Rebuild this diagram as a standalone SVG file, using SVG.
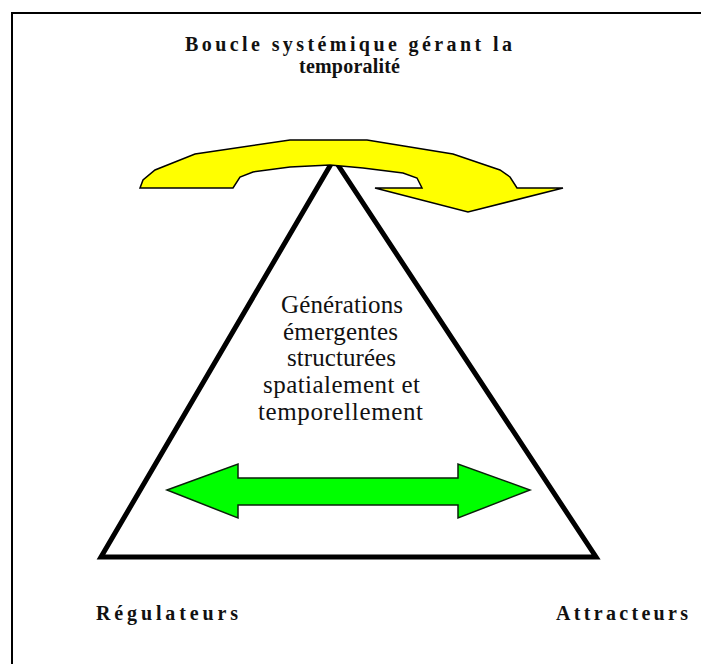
<svg xmlns="http://www.w3.org/2000/svg" width="701" height="664" viewBox="0 0 701 664">
  <style>
    .frame { fill: none; stroke: #000; stroke-width: 2; }
    .title { font-family: "Liberation Serif", "Times New Roman", serif; font-weight: bold; font-size: 20px; fill: #111; }
    .body { font-family: "Liberation Serif", "Times New Roman", serif; font-size: 25px; fill: #111; }
    .tri { fill: none; stroke: #000; stroke-width: 5; stroke-linejoin: miter; stroke-miterlimit: 3; }
    .loop { fill: #ffff00; stroke: #000; stroke-width: 1.5; stroke-linejoin: miter; }
    .both { fill: #00ff00; stroke: #0a200a; stroke-width: 1.5; stroke-linejoin: miter; }
  </style>

  <rect width="701" height="664" fill="#fff"/>
  <!-- outer page frame (open to the right and bottom) -->
  <rect class="frame" x="12" y="13" width="720" height="700"/>

  <g id="title">
    <text class="title" x="185" y="51" textLength="327" lengthAdjust="spacing">Boucle systémique gérant la</text>
    <text class="title" x="299" y="73" textLength="101" lengthAdjust="spacing">temporalité</text>
  </g>

  <g id="triangle">
    <polygon class="tri" points="334,159 101,557 596,557"/>
  </g>

  <g id="center-text">
    <text class="body" x="281" y="313" textLength="122" lengthAdjust="spacing">Générations</text>
    <text class="body" x="283" y="340" textLength="115" lengthAdjust="spacing">émergentes</text>
    <text class="body" x="287" y="366" textLength="109" lengthAdjust="spacing">structurées</text>
    <text class="body" x="263" y="393" textLength="157" lengthAdjust="spacing">spatialement et</text>
    <text class="body" x="258" y="420" textLength="165" lengthAdjust="spacing">temporellement</text>
  </g>

  <g id="connectors">
    <!-- systemic loop over the apex -->
    <path class="loop" d="M140,188 L143,180 L155,170 L195,154 L290,140 L367,140 L453,154 L500,170 L510,177 L517,188 L563,188 L468,212 L375,188 L422,188 L417,178 L403,173 L363,168 L330,165 L290,167 L253,172 L240,177 L233,188 Z"/>
    <!-- two-way arrow between regulators and attractors -->
    <polygon class="both" points="167,490 238,464 238,478 458,478 458,464 530,490 458,518 458,505 238,505 238,518"/>
  </g>

  <g id="regulateurs">
    <text class="title" x="96" y="620" textLength="142" lengthAdjust="spacing">Régulateurs</text>
  </g>
  <g id="attracteurs">
    <text class="title" x="556" y="620" textLength="132" lengthAdjust="spacing">Attracteurs</text>
  </g>
</svg>
